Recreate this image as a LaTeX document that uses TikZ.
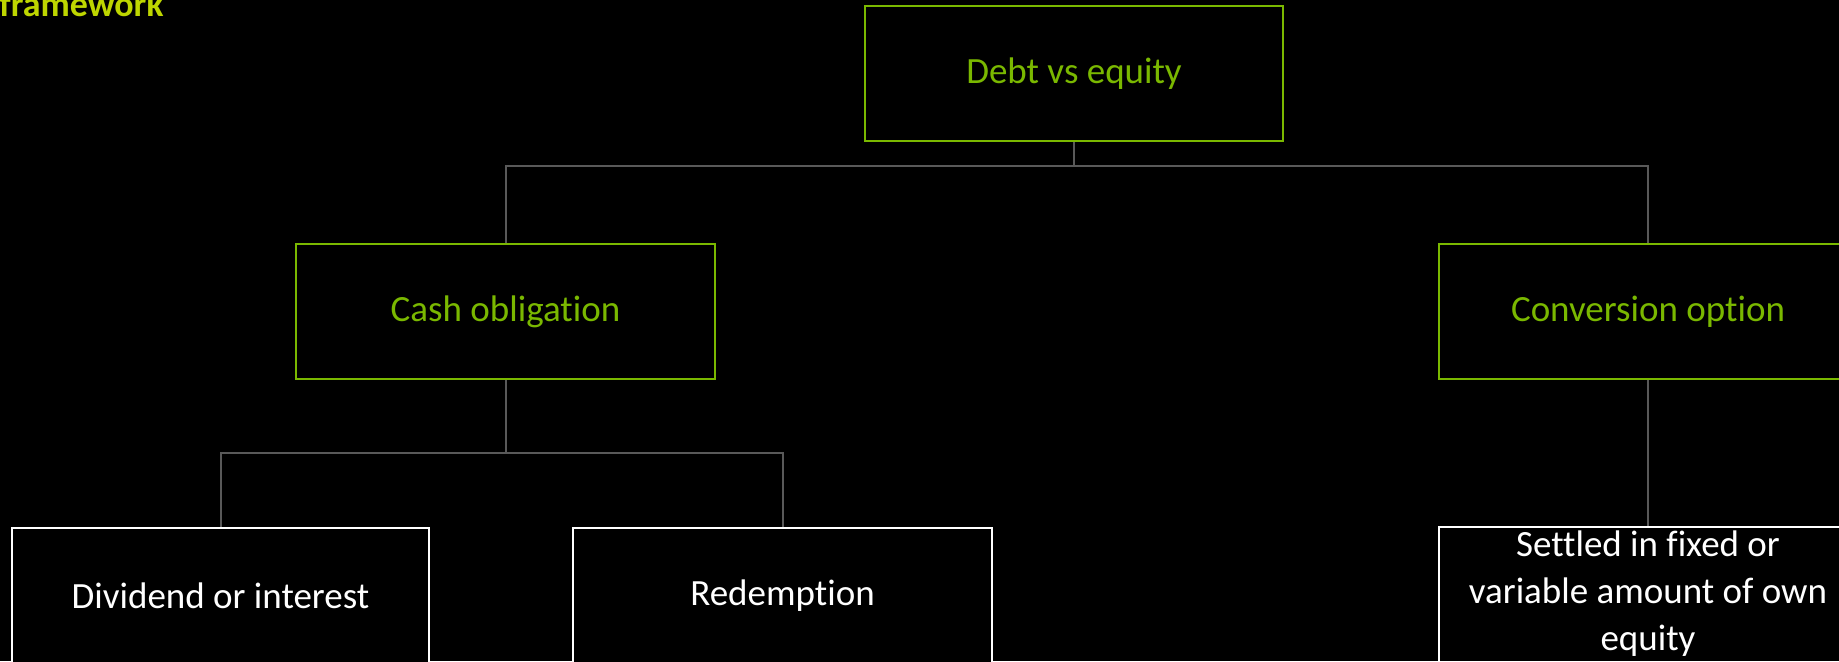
\documentclass[tikz,border=0pt]{standalone}
\usepackage{fontspec}
\setmainfont{Carlito}[Ligatures=NoCommon]
\definecolor{boxgreen}{HTML}{7AB800}
\definecolor{titlegreen}{HTML}{BED600}
\definecolor{linkgray}{HTML}{595959}
\begin{document}
\begin{tikzpicture}[x=0.5pt,y=-0.5pt,
  greenbox/.style={draw=boxgreen,line width=1pt,rectangle,minimum width=209.5pt,minimum height=67.5pt,
    inner sep=0pt,text=boxgreen,font=\fontsize{18.5pt}{23.5pt}\selectfont,align=center},
  whitebox/.style={draw=white,line width=1pt,rectangle,minimum width=209.5pt,minimum height=67.5pt,
    inner sep=0pt,text=white,font=\fontsize{18.5pt}{23.5pt}\selectfont,align=center,fill=black},
  link/.style={draw=linkgray,line width=1pt}]
  % black page
  \fill[black] (0,0) rectangle (1839,661);
  \useasboundingbox (0,0) rectangle (1839,661);
  \clip (0,0) rectangle (1839,661);

  % heading fragment
  \node[anchor=base west,inner sep=0pt,text=titlegreen,font=\fontsize{18pt}{21pt}\selectfont\bfseries]
    (heading) at (-1,16.5) {framework};

  % bus lines
  \coordinate (bus1) at (0,166);
  \coordinate (bus2) at (0,453);

  % boxes
  \node[greenbox,minimum width=209pt] (top) at (1074,73.5) {Debt vs equity};
  \node[greenbox] (cash) at (505.5,311.5) {Cash obligation};
  \node[greenbox] (conv) at (1648,311.5) {Conversion option};
  \node[whitebox,minimum width=208.5pt] (div) at (220.5,595.5) {Dividend or interest};
  \node[whitebox] (red) at (782.5,595.5) {Redemption};
  \node[whitebox] (settled) at (1648,594) {Settled in fixed or\\variable amount of own\\equity};

  % connectors
  \draw[link] (top.south) -- (top.south |- bus1) -| (cash.north);
  \draw[link] (top.south |- bus1) -| (conv.north);
  \draw[link] (cash.south) -- (cash.south |- bus2) -| (div.north);
  \draw[link] (cash.south |- bus2) -| (red.north);
  \draw[link] (conv.south) -- (settled.north);
\end{tikzpicture}
\end{document}
